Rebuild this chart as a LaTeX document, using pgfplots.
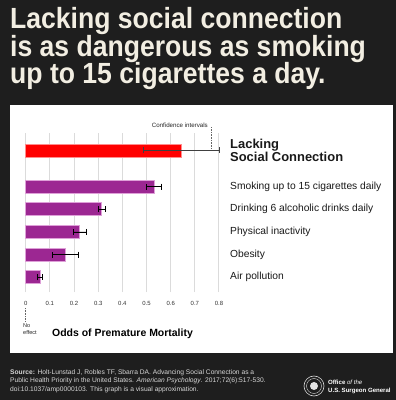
\documentclass[border=0pt]{standalone}
\usepackage{pgfplots}
\pgfplotsset{compat=1.18}
\usepackage{pgfplotstable}
\usepackage{fontspec}
\setmainfont{Liberation Sans}
\definecolor{bgdark}{RGB}{30,30,30}
\definecolor{titlecol}{RGB}{242,238,226}
\definecolor{footcol}{RGB}{215,215,215}
\definecolor{barpurple}{RGB}{156,39,146}
\definecolor{purpleedge}{RGB}{222,160,216}
\definecolor{barred}{RGB}{255,0,0}
\definecolor{rededge}{RGB}{255,140,140}
\newcommand\lk[1]{{\fontsize{13}{15.5}\selectfont\bfseries #1}}

\pgfplotstableread{
pos v em ep
0   0.059 0.011 0.010
1   0.164 0.054 0.056
2   0.223 0.026 0.027
3   0.313 0.013 0.017
4   0.532 0.032 0.028
}\others
\pgfplotstableread{
pos v em ep
5.6 0.643 0.156 0.157
}\lacking

\begin{document}
\begin{tikzpicture}[x=1bp,y=1bp]
\path[use as bounding box] (0,0) rectangle (396,400);
\fill[bgdark] (0,0) rectangle (396,400);
% title
\foreach \t/\yy in {{Lacking social connection}/372,{is as dangerous as smoking}/344,{up to 15 cigarettes a day.}/316.5}{
  \node[anchor=base west, inner sep=0, text=titlecol, font=\fontsize{29.3}{28}\selectfont\bfseries] at (10,\yy) {\scalebox{0.91}[1]{\t}};
}
% white panel
\fill[white] (10,47) rectangle (393,295);

\begin{axis}[
  at={(25.7bp,108bp)}, anchor=south west,
  scale only axis, width=193.3bp, height=159bp,
  xmin=0, xmax=0.8, ymin=-0.65, ymax=6.37,
  axis line style={draw=none},
  major tick length=0pt,
  xtick={0,0.1,...,0.8},
  xticklabels={0,0.1,0.2,0.3,0.4,0.5,0.6,0.7,0.8},
  xmajorgrids, major grid style={draw=black!14, line width=1bp},
  xticklabel style={anchor=center, yshift=-11bp, inner sep=0pt, font=\fontsize{6}{7}\selectfont, text=black!80},
  ytick={0,1,2,3,4,5.6},
  yticklabels={Air pollution, Obesity, Physical inactivity, Drinking 6 alcoholic drinks daily, Smoking up to 15 cigarettes daily, {\lk{Lacking}\\\lk{Social Connection}}},
  yticklabel pos=right,
  yticklabel style={anchor=west, align=left, inner sep=0pt, xshift=11bp, font=\fontsize{10.3}{11}\selectfont, text=black!90},
  /pgf/number format/assume math mode=true,
  clip=false,
]
\addplot[xbar, bar shift=0pt, bar width=13bp, fill=barpurple, draw=purpleedge, line width=0.8bp,
  error bars/.cd, x dir=both, x explicit, error mark=|,
  error bar style={line width=0.9bp, black},
  error mark options={mark size=3bp, line width=0.9bp, black}]
  table[x=v, y=pos, x error minus=em, x error plus=ep] {\others};
\addplot[xbar, bar shift=0pt, bar width=13bp, fill=barred, draw=rededge, line width=0.8bp,
  error bars/.cd, x dir=both, x explicit, error mark=|,
  error bar style={line width=0.8bp, black!75},
  error mark options={mark size=3bp, line width=0.8bp, black!75}]
  table[x=v, y=pos, x error minus=em, x error plus=ep] {\lacking};
\draw[densely dotted, black!60, line width=0.6bp] (axis cs:0.767,5.68) -- (axis cs:0.767,6.62);
\node[font=\fontsize{6.2}{7}\selectfont, text=black!85, inner sep=0] at (axis cs:0.638,6.72) {Confidence intervals};
\draw[densely dotted, black!60, line width=0.6bp] (axis cs:0,-1.36) -- (axis cs:0,-1.97);
\end{axis}

\node[anchor=north west, align=left, inner sep=0, font=\fontsize{5.6}{7.5}\selectfont, text=black!85] at (23,77) {No\\effect};
\node[anchor=base west, inner sep=0, font=\fontsize{10.5}{12}\selectfont\bfseries] at (52,63.3) {Odds of Premature Mortality};

% footer
\node[anchor=base west, inner sep=0, text=footcol, font=\fontsize{6.7}{8.6}\selectfont] at (10,26) {\textbf{Source:} Holt-Lunstad J, Robles TF, Sbarra DA. Advancing Social Connection as a};
\node[anchor=base west, inner sep=0, text=footcol, font=\fontsize{6.7}{8.6}\selectfont] at (10,17.4) {Public Health Priority in the United States. \textit{American Psychology}. 2017;72(6):517-530.};
\node[anchor=base west, inner sep=0, text=footcol, font=\fontsize{6.7}{8.6}\selectfont] at (10,8.8) {doi:10.1037/amp0000103. This graph is a visual approximation.};
% logo
\draw[footcol, line width=0.6bp] (314,14) circle (10);
\draw[footcol, line width=0.4bp] (314,14) circle (7.5);
\fill[footcol!70] (314,14) circle (4);
\node[anchor=base west, inner sep=0, text=white, font=\fontsize{6.1}{7}\selectfont] at (328,16) {\textbf{Office} \textit{of the}};
\node[anchor=base west, inner sep=0, text=white, font=\fontsize{6.1}{7}\selectfont\bfseries] at (328,8) {U.S. Surgeon General};
\end{tikzpicture}
\end{document}
